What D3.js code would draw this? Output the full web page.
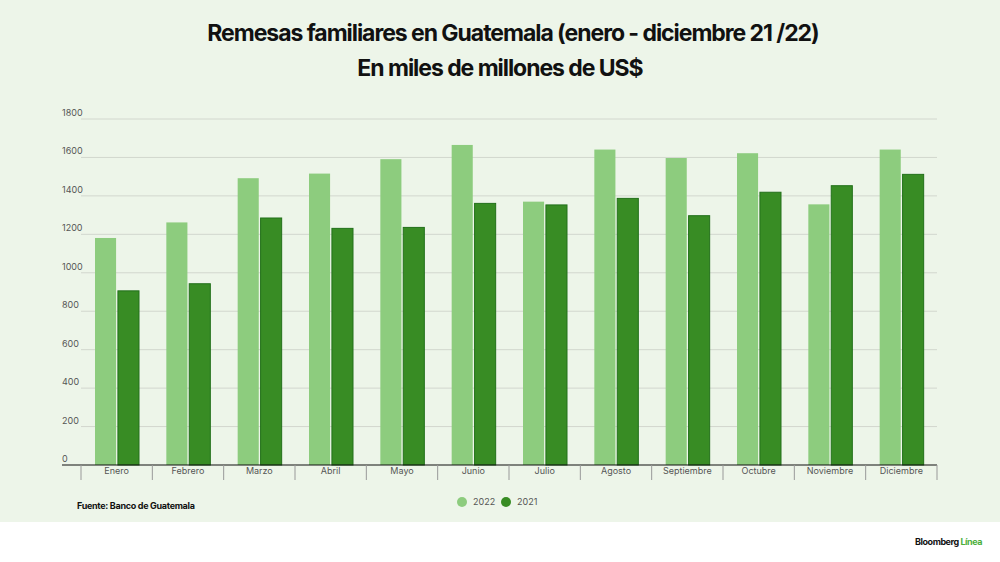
<!DOCTYPE html>
<html>
<head>
<meta charset="utf-8">
<script src="https://cdn.jsdelivr.net/npm/d3@7"></script>
<style>
  body { margin: 0; background: #ffffff; }
  svg { display: block; font-family: Inter, "Liberation Sans", sans-serif; }
</style>
</head>
<body>
<div id="chart"></div>
<script>
// Months on the x axis
const months = ["Enero", "Febrero", "Marzo", "Abril", "Mayo", "Junio", "Julio",
    "Agosto", "Septiembre", "Octubre", "Noviembre", "Diciembre"];

// Series
const years = ["2022", "2021"];
const values2022 = [1181, 1262, 1492, 1516, 1591, 1665, 1370, 1641, 1597, 1622, 1356, 1641];
const values2021 = [906, 943, 1285, 1231, 1236, 1361, 1353, 1387, 1297, 1419, 1453, 1512];

// Y tick labels
const yTicks = [0, 200, 400, 600, 800, 1000, 1200, 1400, 1600, 1800];

const width = 1000, height = 562;
const colors = { "2022": "#8dcc7e", "2021": "#388c24" };

const svg = d3.select("#chart")
    .append("svg")
    .attr("width", width)
    .attr("height", height);

// Light green panel
svg.append("rect")
    .attr("x", 0).attr("y", 0)
    .attr("width", width).attr("height", 522)
    .attr("fill", "#edf5e9");

// Title
svg.append("text")
    .attr("x", 513).attr("y", 41)
    .attr("text-anchor", "middle")
    .style("font-size", "23px")
    .style("font-weight", 700)
    .style("letter-spacing", "-1.05px")
    .attr("fill", "#111")
    .text("Remesas familiares en Guatemala (enero - diciembre 21 /22)");

svg.append("text")
    .attr("x", 500).attr("y", 76)
    .attr("text-anchor", "middle")
    .style("font-size", "23px")
    .style("font-weight", 700)
    .style("letter-spacing", "-1.05px")
    .attr("fill", "#111")
    .text("En miles de millones de US$");

// Scales
const x0 = d3.scaleBand()
    .domain(months)
    .range([81, 937])
    .padding(0);

const x1 = d3.scaleBand()
    .domain(years)
    .range([14, 58])
    .paddingInner(0.08);

const y = d3.scaleLinear()
    .domain([0, 1800])
    .range([465, 119]);

// Grid lines and y labels
const grid = svg.append("g");
grid.selectAll("line")
    .data(yTicks.filter(d => d > 0))
    .enter().append("line")
    .attr("x1", 81).attr("x2", 937)
    .attr("y1", d => y(d)).attr("y2", d => y(d))
    .attr("stroke", "#d2d7ce")
    .attr("stroke-width", 1);

grid.selectAll("text")
    .data(yTicks)
    .enter().append("text")
    .attr("x", 62)
    .attr("y", d => y(d) - 3)
    .style("font-size", "9px")
    .attr("fill", "#555")
    .text(d => d);

// Bars
const rows = months.map((m, i) => ({ month: m, "2022": values2022[i], "2021": values2021[i] }));

const groups = svg.selectAll(".month")
    .data(rows)
    .enter().append("g")
    .attr("class", "month")
    .attr("transform", d => `translate(${x0(d.month)},0)`);

groups.selectAll("rect")
    .data(d => years.map(k => ({ key: k, value: d[k] })))
    .enter().append("rect")
    .attr("x", d => x1(d.key))
    .attr("y", d => y(d.value))
    .attr("width", x1.bandwidth())
    .attr("height", d => y(0) - y(d.value))
    .attr("fill", d => colors[d.key])
    .attr("stroke", d => d.key === "2021" ? "#22701a" : "none")
    .attr("stroke-width", 1);

// X axis
svg.append("line")
    .attr("x1", 62).attr("x2", 937)
    .attr("y1", y(0)).attr("y2", y(0))
    .attr("stroke", "#111")
    .attr("stroke-width", 1.2);

const xAxis = svg.append("g")
    .attr("transform", `translate(0,${y(0)})`)
    .call(d3.axisBottom(x0).tickSize(0).tickPadding(3));
xAxis.select(".domain").remove();
xAxis.selectAll("text")
    .style("font-family", "Inter, 'Liberation Sans', sans-serif")
    .style("font-size", "9px")
    .attr("fill", "#555");

// Separators between months
svg.append("g").selectAll("line")
    .data(months.map(m => x0(m)).concat([x0.range()[1]]))
    .enter().append("line")
    .attr("x1", d => d).attr("x2", d => d)
    .attr("y1", y(0)).attr("y2", y(0) + 15)
    .attr("stroke", "#999")
    .attr("stroke-width", 1);

// Legend
const legend = svg.append("g")
    .attr("transform", "translate(462,502)");
const item = legend.selectAll("g")
    .data(years)
    .enter().append("g")
    .attr("transform", (d, i) => `translate(${i * 44},0)`);
item.append("circle")
    .attr("r", 5)
    .attr("fill", d => colors[d]);
item.append("text")
    .attr("x", 11).attr("y", 3)
    .style("font-size", "9px")
    .attr("fill", "#555")
    .text(d => d);

// Source
svg.append("text")
    .attr("x", 77).attr("y", 509)
    .style("font-size", "9px")
    .style("font-weight", 700)
    .style("letter-spacing", "-0.3px")
    .attr("fill", "#111")
    .text("Fuente: Banco de Guatemala");

// Logo text
const logo = svg.append("text")
    .attr("x", 915).attr("y", 545)
    .style("font-size", "9px")
    .style("font-weight", 700)
    .style("letter-spacing", "-0.45px")
    .attr("fill", "#111");
logo.append("tspan").text("Bloomberg ");
logo.append("tspan").attr("fill", "#4caf3c").text("Línea");
</script>
</body>
</html>
